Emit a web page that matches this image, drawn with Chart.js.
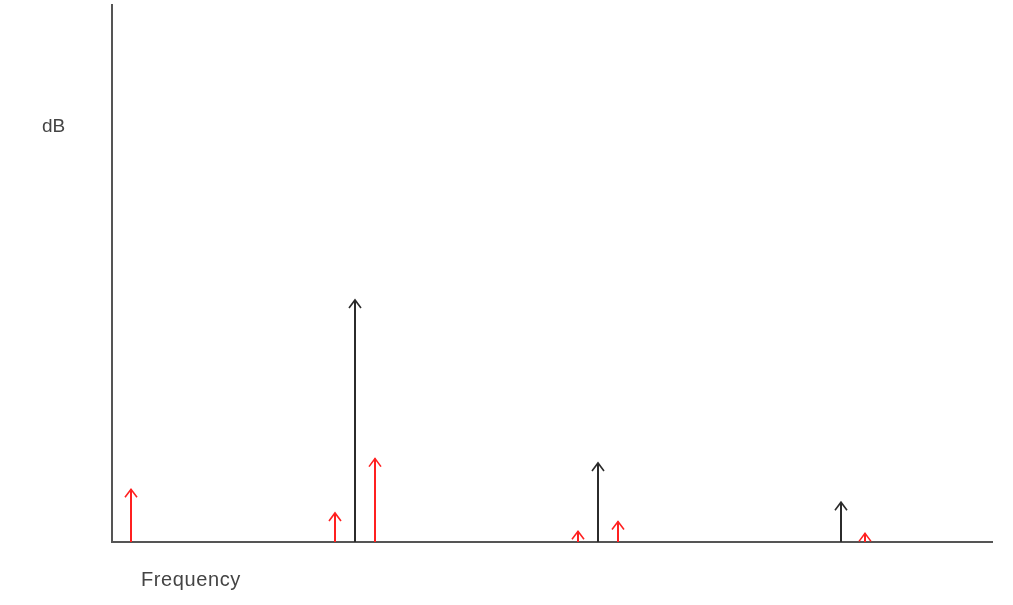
<!DOCTYPE html>
<html>
<head>
<meta charset="utf-8">
<script src="https://cdn.jsdelivr.net/npm/chart.js@4"></script>
<style>
  body { margin: 0; background: #fff; }
  #wrap { position: relative; width: 1013px; height: 605px; }
  .axis-label { position: absolute; font-family: "Liberation Sans", Arial, sans-serif; color: #444; }
</style>
</head>
<body>
<div id="wrap">
  <canvas id="spectrum" width="1013" height="605"></canvas>
  <div class="axis-label" style="left:42px; top:115px; font-size:19px;">dB</div>
  <div class="axis-label" style="left:141px; top:568px; font-size:20px; letter-spacing:0.6px;">Frequency</div>
</div>
<script>
// frequency in units of the fundamental, level in arbitrary dB units
const toneFreqs = [1.0, 2.0, 3.0];
const toneLevels = [45, 14.7, 7.4];

const spurFreqs = [0.08, 0.918, 1.082, 1.918, 2.082, 3.1];
const spurLevels = [9.8, 5.4, 15.5, 2.0, 3.8, 1.6];

const freqRange = [0, 3.626];
const levelRange = [0, 100];

const colors = Object.freeze({
    TONE: '#2b2b2b',
    SPUR: '#ff2020',
    AXIS: '#555555',
});

function toPoints(xs, ys){
    return xs.map((x, i) => ({ x: x, y: ys[i] }));
}

// draws each point as a stem from zero with an open arrowhead
const arrowPlugin = {
    id: 'arrows',
    afterDatasetsDraw(chart){
        const ctx = chart.ctx;
        const xScale = chart.scales.x;
        const yScale = chart.scales.y;
        const base = yScale.getPixelForValue(0);

        chart.data.datasets.forEach((ds) => {
            ds.data.forEach((p) => {
                const px = Math.round(xScale.getPixelForValue(p.x));
                const py = yScale.getPixelForValue(p.y);
                ctx.save();
                ctx.strokeStyle = ds.borderColor;
                ctx.lineWidth = 2;
                ctx.beginPath();
                ctx.moveTo(px, base);
                ctx.lineTo(px, py);
                ctx.stroke();
                ctx.lineWidth = 1.6;
                ctx.beginPath();
                ctx.moveTo(px - 6, py + 8);
                ctx.lineTo(px, py);
                ctx.lineTo(px + 6, py + 8);
                ctx.stroke();
                ctx.restore();
            });
        });
    }
};

const axesPlugin = {
    id: 'plainAxes',
    beforeDatasetsDraw(chart){
        const ctx = chart.ctx;
        const area = chart.chartArea;
        ctx.save();
        ctx.strokeStyle = colors.AXIS;
        ctx.lineWidth = 2;
        ctx.beginPath();
        ctx.moveTo(area.left, area.top);
        ctx.lineTo(area.left, area.bottom);
        ctx.lineTo(area.right, area.bottom);
        ctx.stroke();
        ctx.restore();
    }
};

new Chart(document.getElementById('spectrum'), {
    type: 'scatter',
    data: {
        datasets: [
            { label: 'tones', data: toPoints(toneFreqs, toneLevels), borderColor: colors.TONE, pointRadius: 0 },
            { label: 'spurs', data: toPoints(spurFreqs, spurLevels), borderColor: colors.SPUR, pointRadius: 0 },
        ]
    },
    options: {
        responsive: false,
        animation: false,
        layout: { padding: { left: 112, right: 20, top: 4, bottom: 63 } },
        plugins: { legend: { display: false }, tooltip: { enabled: false } },
        scales: {
            x: { type: 'linear', display: false, min: freqRange[0], max: freqRange[1] },
            y: { type: 'linear', display: false, min: levelRange[0], max: levelRange[1] },
        }
    },
    plugins: [axesPlugin, arrowPlugin]
});
</script>
</body>
</html>
